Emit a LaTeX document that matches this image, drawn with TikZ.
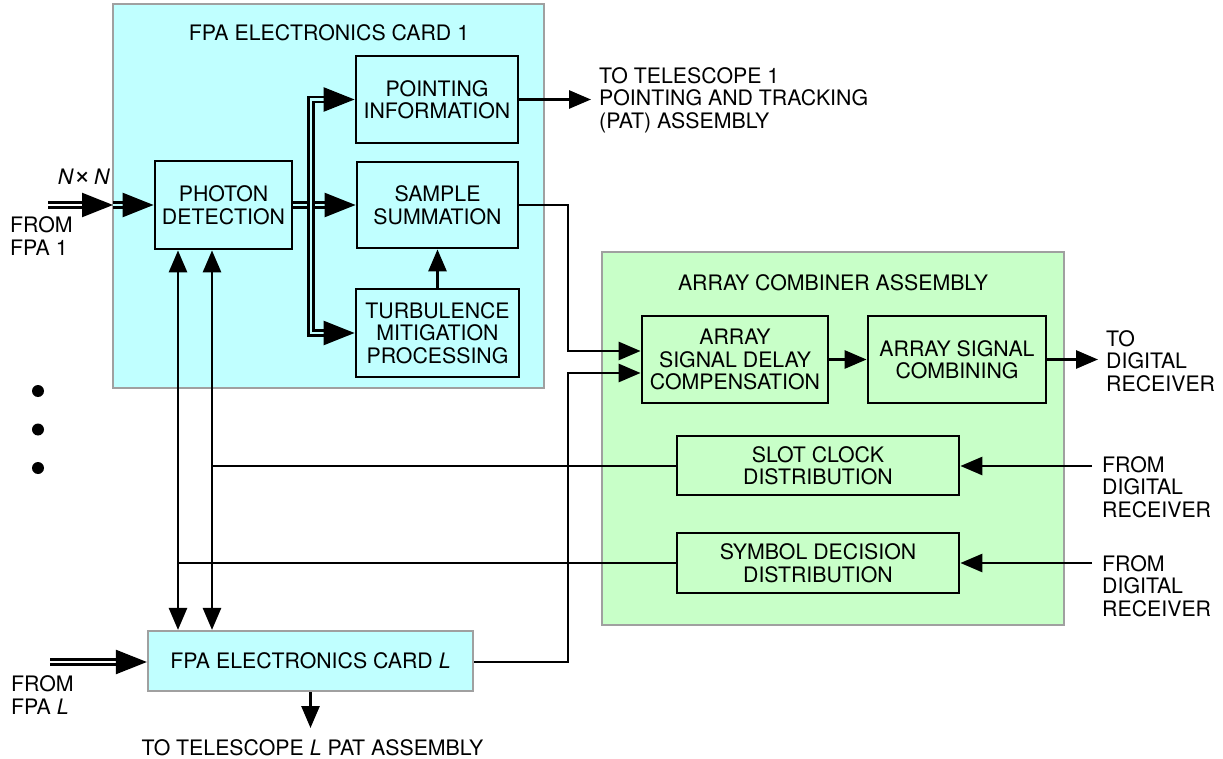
\documentclass[tikz,border=0pt]{standalone}
\usepackage{fontspec}
\setmainfont{TeX Gyre Heros}
\usetikzlibrary{arrows.meta,calc}
\definecolor{cardcyan}{HTML}{C0FFFF}
\definecolor{accgreen}{HTML}{C8FFC8}
\definecolor{cardgray}{HTML}{A0A0A0}
\newcommand{\lbl}{\fontsize{21.3}{22.5}\selectfont}
\tikzset{
  cardbox/.style={draw=cardgray, line width=2.2pt, inner sep=0pt},
  procbox/.style={draw=black, line width=2.8pt, align=center, inner sep=0pt, font=\lbl},
  txt/.style={inner sep=0pt, align=left, font=\lbl},
  ctxt/.style={inner sep=0pt, align=center, font=\lbl},
  wire/.style={draw=black, line width=2.8pt, line join=miter},
  arr/.style={wire, -{Triangle[length=22pt,width=18pt]}},
  barr/.style={wire, {Triangle[length=22pt,width=18pt]}-{Triangle[length=22pt,width=18pt]}},
  bus/.style={draw=black, line width=2.3pt, double distance=2.8pt, line join=miter, -{Triangle[length=31pt,width=24pt]}},
  busboth/.style={draw=black, line width=2.3pt, double distance=2.8pt, line join=miter, {Triangle[length=31pt,width=24pt]}-{Triangle[length=31pt,width=24pt]}},
  dot/.style={circle, fill=black, inner sep=0pt, minimum size=12pt}
}
\begin{document}
\begin{tikzpicture}[x=1pt,y=-1pt]
\useasboundingbox (0,0) rectangle (1223,759);
% containers
\node[cardbox, fill=cardcyan, minimum width=431pt, minimum height=384pt] (card1) at (328.5,196) {};
\node[ctxt] (card1title) at (329,33) {FPA ELECTRONICS CARD 1};
\node[cardbox, fill=accgreen, minimum width=462pt, minimum height=373pt] (acc) at (833,438.5) {};
\node[ctxt] (acctitle) at (833,283) {ARRAY COMBINER ASSEMBLY};
% blocks in card 1
\node[procbox, fill=cardcyan, minimum width=137pt, minimum height=88pt] (pd) at (223.5,205) {PHOTON\\DETECTION};
\node[procbox, fill=cardcyan, minimum width=162pt, minimum height=87pt] (pi) at (437,99.5) {POINTING\\INFORMATION};
\node[procbox, fill=cardcyan, minimum width=161pt, minimum height=86pt] (ss) at (437.5,205) {SAMPLE\\SUMMATION};
\node[procbox, fill=cardcyan, minimum width=163pt, minimum height=88pt] (tm) at (437.5,333) {TURBULENCE\\MITIGATION\\PROCESSING};
% blocks in array combiner
\node[procbox, fill=accgreen, minimum width=186pt, minimum height=87pt] (adc) at (735,359.5) {ARRAY\\SIGNAL DELAY\\COMPENSATION};
\node[procbox, fill=accgreen, minimum width=178pt, minimum height=87pt] (asc) at (957,359.5) {ARRAY SIGNAL\\COMBINING};
\node[procbox, fill=accgreen, minimum width=282pt, minimum height=59pt] (scd) at (818,465.5) {SLOT CLOCK\\DISTRIBUTION};
\node[procbox, fill=accgreen, minimum width=282pt, minimum height=60pt] (sdd) at (818,563) {SYMBOL DECISION\\DISTRIBUTION};
% card L
\node[cardbox, fill=cardcyan, minimum width=325pt, minimum height=60pt, font=\lbl] (cardL) at (310.5,661) {FPA ELECTRONICS CARD \textit{L}};
% dots
\node[dot] (d1) at (38,391) {};
\node[dot] (d2) at (38,429.5) {};
\node[dot] (d3) at (38,468) {};
% labels
\node[ctxt] (nxn) at (84,177) {\textit{N}\raisebox{0.5pt}{\scalebox{1.35}{×}}\,\textit{N}};
\node[txt, anchor=west] (from1) at (10,236) {FROM\\FPA 1};
\node[txt, anchor=west] (fromL) at (11,695) {FROM\\FPA \textit{L}};
\node[txt, anchor=west] (totel1) at (599,100) {TO TELESCOPE 1\\POINTING AND TRACKING\\(PAT) ASSEMBLY};
\node[txt, anchor=west] (todr) at (1106,361) {TO\\DIGITAL\\RECEIVER};
\node[txt, anchor=west] (fromdr1) at (1102,487) {FROM\\DIGITAL\\RECEIVER};
\node[txt, anchor=west] (fromdr2) at (1102,586) {FROM\\DIGITAL\\RECEIVER};
\node[ctxt] (totelL) at (312.5,748) {TO TELESCOPE \textit{L} PAT ASSEMBLY};
% free ends
\coordinate (in1) at (48,205);
\coordinate (inL) at (50,662);
\coordinate (busx) at (311,0);
\coordinate (v1) at (178,0);
\coordinate (v2) at (212,0);
\coordinate (jx) at (568,0);
\coordinate (outpi) at (591,99.5);
\coordinate (outasc) at (1098,359.5);
\coordinate (inscd) at (1092,466);
\coordinate (insdd) at (1092,563);
\coordinate (outL) at (310.5,728);
% double-line buses
\draw[bus, double=white] (in1) -- (113,205);
\draw[bus, double=cardcyan] (113,205) -- (pd.west);
\draw[bus, double=white] (inL) -- (cardL.west |- inL);
\draw[bus, double=cardcyan] (pd.east) -- (ss.west);
\draw[busboth, double=cardcyan] (pi.west) -- (pi.west -| busx) -- (tm.west -| busx) -- (tm.west);
% single wires
\draw[arr] (tm.north) -- (ss.south);
\draw[arr] (pi.east) -- (outpi);
\draw[arr] (ss.east) -- (ss.east -| jx) -- ([yshift=8.5pt]adc.west -| jx) -- ([yshift=8.5pt]adc.west);
\draw[arr] (cardL.east |- inL) -- (inL -| jx) -- ([yshift=-13.5pt]adc.west -| jx) -- ([yshift=-13.5pt]adc.west);
\draw[arr] (adc.east) -- (asc.west);
\draw[arr] (asc.east) -- (outasc);
\draw[arr] (inscd) -- (inscd -| scd.east);
\draw[arr] (insdd) -- (insdd -| sdd.east);
\draw[barr] (pd.south -| v1) -- (cardL.north -| v1);
\draw[barr] (pd.south -| v2) -- (cardL.north -| v2);
\draw[wire] (inscd -| scd.west) -- (inscd -| v2);
\draw[wire] (insdd -| sdd.west) -- (insdd -| v1);
\draw[arr] (cardL.south) -- (outL);
\end{tikzpicture}
\end{document}
